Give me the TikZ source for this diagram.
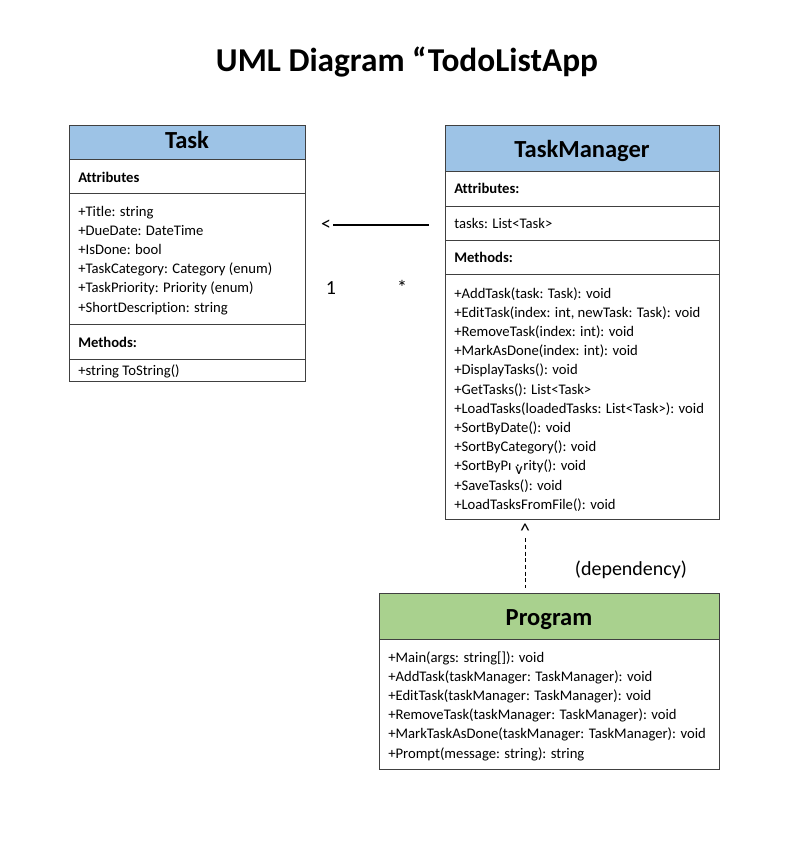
\documentclass[tikz,border=0pt]{standalone}
\usepackage{fontspec}
\setmainfont{Carlito}[Ligatures=NoCommon]
\definecolor{hblue}{HTML}{9DC3E6}
\definecolor{hgreen}{HTML}{A9D18E}
\definecolor{edge}{HTML}{404040}
\begin{document}
\begin{tikzpicture}[x=0.75pt,y=-0.75pt,
  box/.style={draw=edge, line width=0.75pt},
  sep/.style={draw=edge, line width=0.75pt},
  txt/.style={anchor=base west, inner sep=0pt, font=\fontsize{11}{14.4}\selectfont},
  btxt/.style={anchor=base west, inner sep=0pt, font=\fontsize{11}{14.4}\selectfont\bfseries},
  hdr/.style={anchor=base, inner sep=0pt, font=\fontsize{18.4}{22}\selectfont\bfseries},
  lbl/.style={anchor=base, inner sep=0pt, font=\fontsize{15}{18}\selectfont},
]
\useasboundingbox (0,0) rectangle (792,849);
\fill[white] (0,0) rectangle (792,849);

% title
\node[anchor=base, inner sep=0pt, font=\fontsize{25}{30}\selectfont\bfseries] (title) at (407,71) {UML Diagram “TodoListApp};

% ---- Task ----
\fill[hblue] (69,125) rectangle (305,159);
\draw[box] (69,125) rectangle (305,381);
\draw[sep] (69,159) -- (305,159);
\draw[sep] (69,193) -- (305,193);
\draw[sep] (69,324) -- (305,324);
\draw[sep] (69,359) -- (305,359);
\node[hdr] (taskh) at (187,148) {Task};
\node[btxt] (taska) at (78,182) {Attributes};
\foreach \t [count=\i] in {+Title: string,+DueDate: DateTime,+IsDone: bool,+TaskCategory: Category (enum),+TaskPriority: Priority (enum),+ShortDescription: string}
  \node[txt] (ta\i) at (78,{216+(\i-1)*19.2}) {\t};
\node[btxt] (taskm) at (78,347) {Methods:};
\node[txt] (taskmeth) at (78,375) {+string ToString()};

% ---- TaskManager ----
\fill[hblue] (445,125) rectangle (719,171);
\draw[box] (445,125) rectangle (719,519);
\draw[sep] (445,171) -- (719,171);
\draw[sep] (445,206) -- (719,206);
\draw[sep] (445,240) -- (719,240);
\draw[sep] (445,274) -- (719,274);
\node[hdr] (tmh) at (582,157) {TaskManager};
\node[btxt] (tma) at (454,193) {Attributes:};
\node[txt] (tmattr) at (454,228) {tasks: List<Task>};
\node[btxt] (tmm) at (454,262) {Methods:};
\foreach \t [count=\i] in {+AddTask(task: Task): void,{+EditTask(index: int, newTask: Task): void},+RemoveTask(index: int): void,+MarkAsDone(index: int): void,+DisplayTasks(): void,+GetTasks(): List<Task>,+LoadTasks(loadedTasks: List<Task>): void,+SortByDate(): void,+SortByCategory(): void,{+SortByPı\kern3pt\raisebox{-2.5pt}{\fontsize{12}{14}\selectfont v}\kern-5pt\raisebox{3.2pt}{.}\kern2.8pt rity(): void},+SaveTasks(): void,+LoadTasksFromFile(): void}
  \node[txt] (tm\i) at (454,{298+(\i-1)*19.2}) {\t};

% ---- Program ----
\fill[hgreen] (379,593) rectangle (719,639);
\draw[box] (379,593) rectangle (719,769);
\draw[sep] (379,639) -- (719,639);
\node[hdr] (progh) at (549,625) {Program};
\foreach \t [count=\i] in {+Main(args: string[]): void,+AddTask(taskManager: TaskManager): void,+EditTask(taskManager: TaskManager): void,+RemoveTask(taskManager: TaskManager): void,+MarkTaskAsDone(taskManager: TaskManager): void,+Prompt(message: string): string}
  \node[txt] (pm\i) at (388,{662+(\i-1)*19.2}) {\t};

% ---- association ----
\node[lbl] (lt) at (326,230) {<};
\coordinate (assocend) at (429,225);
\draw[line width=1.5pt] (lt.east |- assocend) ++(2,0) -- (assocend);
\node[lbl] (one) at (331,294) {1};
\node[lbl] (many) at (402,294) {*};

% ---- dependency ----
\node[lbl] (caret) at (525,537) {\textasciicircum};
\coordinate (depend) at (525,588);
\draw[line width=0.75pt, dash pattern=on 3pt off 2pt] (caret.south) ++(0,1) -- (depend);
\node[lbl] (deplbl) at (631,575) {(dependency)};
\end{tikzpicture}
\end{document}
